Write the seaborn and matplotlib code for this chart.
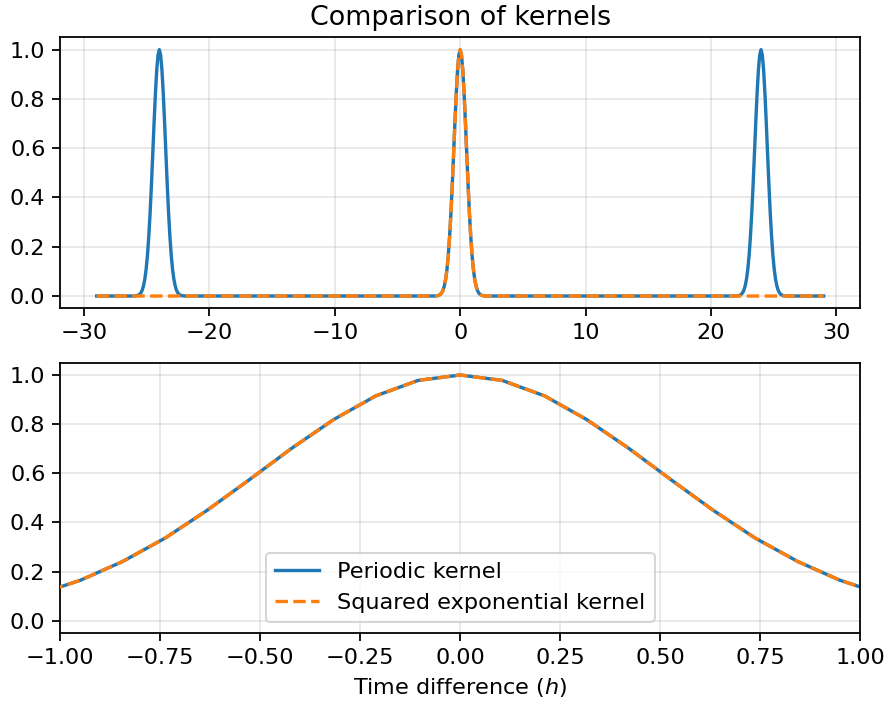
import matplotlib
matplotlib.use("Agg")
import matplotlib.pyplot as plt
import seaborn as sns
import numpy as np

# ---- data ----
x_min, x_max = -29.0, 29.0
peak_centers = [-24.0, 0.0, 24.0]          # periodic kernel peaks
se_center = 0.0                            # squared exponential peak
peak_offsets = [-2.109, -2.004, -1.898, -1.793, -1.687, -1.582, -1.476, -1.371,
                -1.266, -1.160, -1.055, -0.949, -0.844, -0.738, -0.633, -0.527,
                -0.422, -0.316, -0.211, -0.105, 0.0, 0.105, 0.211, 0.316, 0.422,
                0.527, 0.633, 0.738, 0.844, 0.949, 1.055, 1.160, 1.266, 1.371,
                1.476, 1.582, 1.687, 1.793, 1.898, 2.004, 2.109]
peak_values = [0.0001, 0.0003, 0.0007, 0.0016, 0.0034, 0.0067, 0.0128, 0.0233,
               0.0407, 0.068, 0.108, 0.165, 0.241, 0.336, 0.449, 0.574,
               0.701, 0.819, 0.915, 0.978, 1.0, 0.978, 0.915, 0.819, 0.701,
               0.574, 0.449, 0.336, 0.241, 0.165, 0.108, 0.068, 0.0407, 0.0233,
               0.0128, 0.0067, 0.0034, 0.0016, 0.0007, 0.0003, 0.0001]

periodic_x = [x_min] + [c + o for c in peak_centers for o in peak_offsets] + [x_max]
periodic_y = [0.0] + [v for c in peak_centers for v in peak_values] + [0.0]
se_x = [x_min] + [se_center + o for o in peak_offsets] + [x_max]
se_y = [0.0] + list(peak_values) + [0.0]

labels = ["Periodic kernel", "Squared exponential kernel"]
colors = ["#1f77b4", "#ff7f0e"]

k = 1.12
plt.rcParams.update({
    'font.family': ['DejaVu Sans'],
    'font.size': 10 * k,
    'axes.linewidth': 0.8 * k,
    'xtick.major.width': 0.8 * k,
    'ytick.major.width': 0.8 * k,
    'xtick.major.size': 3.5 * k,
    'ytick.major.size': 3.5 * k,
    'grid.linewidth': 0.8 * k,
})
fig = plt.figure(figsize=(887 / 144, 704 / 144), dpi=144)
ax1 = fig.add_axes([0.068, 0.562, 0.9016, 0.385])
ax2 = fig.add_axes([0.068, 0.1009, 0.9016, 0.3839])

for ax in (ax1, ax2):
    sns.lineplot(x=periodic_x, y=periodic_y, ax=ax, color=colors[0], lw=1.5 * k,
                 label=labels[0], sort=False, estimator=None, zorder=2)
    sns.lineplot(x=se_x, y=se_y, ax=ax, color=colors[1], lw=1.5 * k, linestyle="--",
                 label=labels[1], sort=False, estimator=None, zorder=3)
    ax.grid(True, alpha=0.3)
    for s in ax.spines.values():
        s.set_visible(True)
        s.set_color("black")

ax1.get_legend().remove()
ax1.set_title("Comparison of kernels", fontsize=12 * k)
ax2.set_xlim(-1, 1)
ax2.set_xlabel("Time difference ($h$)")
ax2.legend(loc="lower center")

fig.savefig("out.png", dpi=144)
